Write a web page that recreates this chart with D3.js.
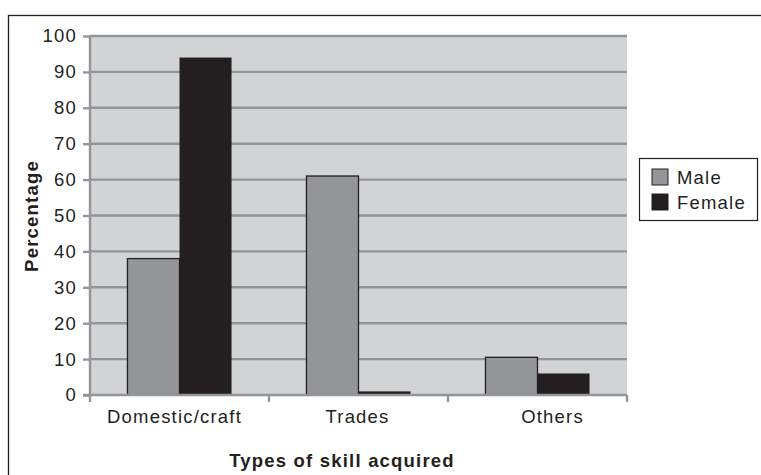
<!DOCTYPE html>
<html><head><meta charset="utf-8">
<script src="https://cdn.jsdelivr.net/npm/d3@7"></script>
<style>body{margin:0;background:#fff}svg{display:block}text{font-family:"Liberation Sans",Arial,sans-serif;fill:#231f20}</style>
</head><body>
<svg id="c" width="761" height="475"></svg>
<script>
const categories = ["Domestic/craft", "Trades", "Others"];
const seriesNames = ["Male", "Female"];
const maleValues = [38, 61, 10.5];
const femaleValues = [94, 1, 6];
const yTicks = [0, 10, 20, 30, 40, 50, 60, 70, 80, 90, 100];

const colors = {Male: "#939598", Female: "#231f20"};
const FS = 18.5, LS = "1.2px";
const labelShift = [-5, -1, 15];
const svg = d3.select("#c");
const m = {left: 90, right: 627, top: 36, bottom: 395};

// outer frame
svg.append("rect").attr("x", 8.5).attr("y", 15.5).attr("width", 900).attr("height", 600)
  .attr("fill", "none").attr("stroke", "#231f20").attr("stroke-width", 1.3);

const x = d3.scaleBand().domain(categories).range([m.left, m.right]).paddingInner(0).paddingOuter(0);
const x1 = d3.scaleBand().domain(seriesNames).range([0, x.bandwidth()]).paddingInner(0).paddingOuter(0.72);
const y = d3.scaleLinear().domain([0, 100]).range([m.bottom, m.top]);

svg.append("rect").attr("x", m.left).attr("y", m.top).attr("width", m.right - m.left).attr("height", m.bottom - m.top)
  .attr("fill", "#d1d3d4");

// gridlines
svg.append("g").selectAll("line").data(yTicks.filter(d => d > 0)).join("line")
  .attr("x1", m.left).attr("x2", m.right).attr("y1", d => y(d)).attr("y2", d => y(d))
  .attr("stroke", "#939598").attr("stroke-width", 2.4);

// bars
const data = categories.map((c, i) => ({c, vals: [{s: "Male", v: maleValues[i]}, {s: "Female", v: femaleValues[i]}]}));
const g = svg.append("g").selectAll("g").data(data).join("g").attr("transform", d => `translate(${x(d.c)},0)`);
g.selectAll("rect").data(d => d.vals).join("rect")
  .attr("x", d => x1(d.s)).attr("width", x1.bandwidth())
  .attr("y", d => y(d.v)).attr("height", d => y(0) - y(d.v))
  .attr("fill", d => colors[d.s])
  .attr("stroke", "#231f20").attr("stroke-width", d => d.s === "Male" ? 1.3 : 0);

// y axis
const ya = svg.append("g").attr("transform", `translate(${m.left},0)`)
  .call(d3.axisLeft(y).tickValues(yTicks).tickSize(7).tickPadding(6));
ya.select(".domain").attr("stroke", "#939598").attr("stroke-width", 2.4).attr("d", `M0,${m.top}V${m.bottom + 1}`);
ya.selectAll(".tick line").attr("stroke", "#939598").attr("stroke-width", 2.4);
ya.selectAll(".tick text").attr("font-size", FS).attr("letter-spacing", LS).attr("fill", "#231f20")
  .attr("font-family", '"Liberation Sans",Arial,sans-serif');

// x axis
const xa = svg.append("g").attr("transform", `translate(0,${m.bottom})`)
  .call(d3.axisBottom(x).tickSize(0).tickPadding(15));
xa.select(".domain").attr("stroke", "#939598").attr("stroke-width", 2.4).attr("d", `M${m.left - 7},0H${m.right}`);
xa.selectAll(".tick text").attr("font-size", FS).attr("letter-spacing", LS).attr("fill", "#231f20")
  .attr("font-family", '"Liberation Sans",Arial,sans-serif')
  .attr("dx", (d, i) => labelShift[i]);
const bounds = [categories[0]].map(c => x(c)).concat(categories.map(c => x(c) + x.bandwidth()));
svg.append("g").selectAll("line").data(bounds).join("line")
  .attr("x1", d => d).attr("x2", d => d).attr("y1", m.bottom).attr("y2", m.bottom + 7)
  .attr("stroke", "#939598").attr("stroke-width", 2.4);

// titles
svg.append("text").attr("transform", "translate(38,216) rotate(-90)").attr("text-anchor", "middle")
  .attr("font-size", FS).attr("letter-spacing", LS).attr("font-weight", "bold").text("Percentage");
svg.append("text").attr("x", 342).attr("y", 467).attr("text-anchor", "middle")
  .attr("font-size", FS).attr("letter-spacing", LS).attr("font-weight", "bold").text("Types of skill acquired");

// legend
const lg = svg.append("g");
lg.append("rect").attr("x", 639.5).attr("y", 158.5).attr("width", 118).attr("height", 62)
  .attr("fill", "#fff").attr("stroke", "#231f20").attr("stroke-width", 1.2);
const li = lg.selectAll("g").data(seriesNames).join("g")
  .attr("transform", (d, i) => `translate(652,${169 + i * 25})`);
li.append("rect").attr("width", 16).attr("height", 16).attr("fill", d => colors[d])
  .attr("stroke", "#231f20").attr("stroke-width", 1);
li.append("text").attr("x", 25).attr("y", 15).attr("font-size", FS).attr("letter-spacing", LS).text(d => d);
</script>
</body></html>
